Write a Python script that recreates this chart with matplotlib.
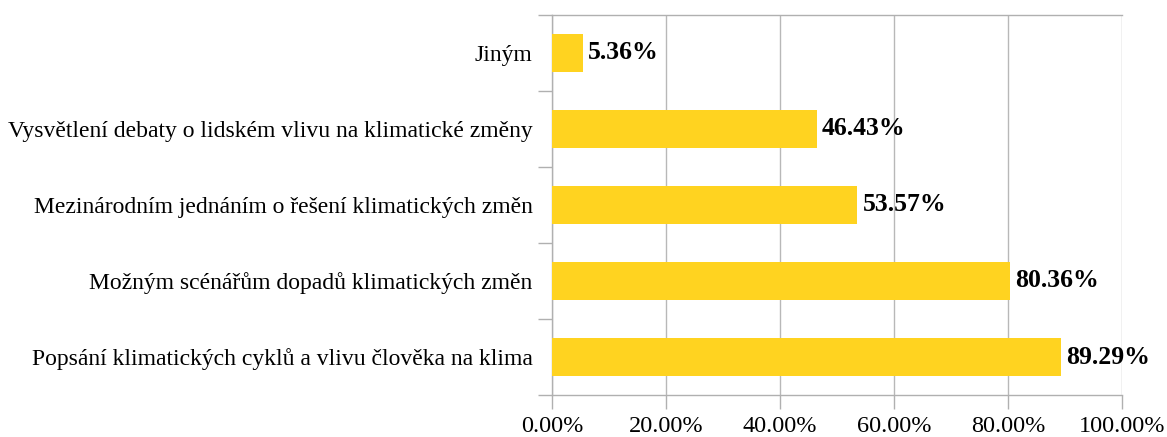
import matplotlib.pyplot as plt
from matplotlib.ticker import FixedLocator, PercentFormatter

categories = [
    "Popsání klimatických cyklů a vlivu člověka na klima",
    "Možným scénářům dopadů klimatických změn",
    "Mezinárodním jednáním o řešení klimatických změn",
    "Vysvětlení debaty o lidském vlivu na klimatické změny",
    "Jiným",
]
values = [89.29, 80.36, 53.57, 46.43, 5.36]
xticks = [0, 20, 40, 60, 80, 100]

plt.rcParams['font.family'] = ['Liberation Serif', 'DejaVu Serif']

fig = plt.figure(figsize=(11.67, 4.37), dpi=100)
ax = fig.add_axes([0.473, 0.0961, 0.4884, 0.8696])

y = list(range(len(categories)))
bars = ax.barh(y, values, height=0.51, color='#FFD320', zorder=3)

for b, v in zip(bars, values):
    ax.text(b.get_width() + 0.9, b.get_y() + b.get_height() / 2, f"{v:.2f}%",
            va='center', ha='left', fontsize=18.5, fontweight='bold', zorder=4)

ax.set_xlim(0, 100)
ax.set_ylim(-0.5, len(categories) - 0.5)
ax.set_xticks(xticks)
ax.xaxis.set_major_formatter(PercentFormatter(decimals=2))
ax.set_yticks(y)
ax.set_yticklabels(categories)
ax.yaxis.set_minor_locator(FixedLocator([i - 0.5 for i in range(len(categories) + 1)]))

ax.tick_params(axis='x', length=10, width=1, color='#b0b0b0', labelsize=17.5, pad=5)
ax.tick_params(axis='y', which='major', length=0, labelsize=17, pad=14)
ax.tick_params(axis='y', which='minor', length=10, width=1, color='#b0b0b0')

ax.grid(axis='x', color='#b8b8b8', linewidth=1, zorder=0)
for s in ['left', 'bottom', 'top']:
    ax.spines[s].set_color('#b0b0b0')
    ax.spines[s].set_linewidth(1)
ax.spines['right'].set_visible(False)

fig.savefig('out.png', dpi=100)
